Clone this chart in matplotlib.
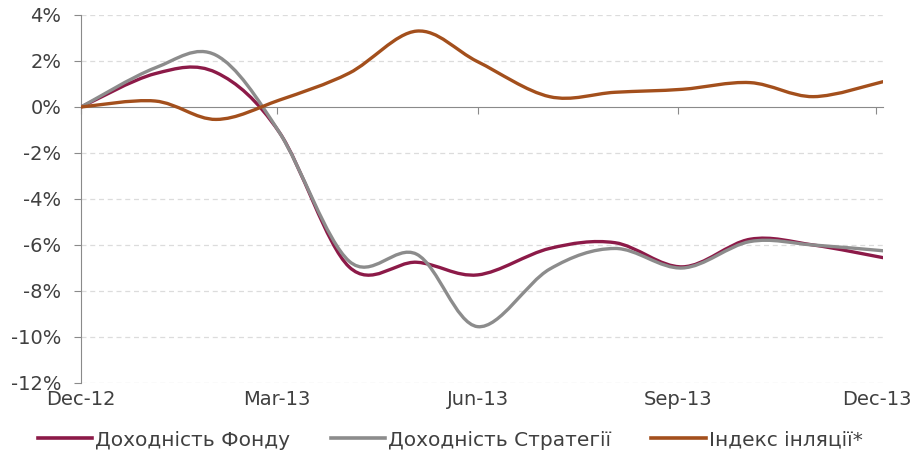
import matplotlib
matplotlib.use("Agg")
import matplotlib.pyplot as plt
import matplotlib.dates as mdates
from matplotlib.path import Path
from matplotlib.patches import PathPatch
from matplotlib.lines import Line2D
import numpy as np
import pandas as pd

# month-end data points
dates = pd.to_datetime(["2012-12-28", "2013-01-31", "2013-02-28", "2013-03-29",
                        "2013-04-30", "2013-05-31", "2013-06-28", "2013-07-31",
                        "2013-08-30", "2013-09-30", "2013-10-31", "2013-11-29",
                        "2013-12-31"])
fund = [0.0, 1.45, 1.5, -1.1, -6.95, -6.75, -7.3, -6.15, -5.9, -6.95, -5.75, -6.0, -6.55]
strategy = [0.0, 1.7, 2.25, -1.1, -6.7, -6.4, -9.55, -7.05, -6.15, -7.0, -5.85, -6.0, -6.25]
inflation = [0.0, 0.26, -0.54, 0.3, 1.47, 3.3, 1.97, 0.45, 0.64, 0.77, 1.06, 0.45, 1.1]

series_names = ["Доходність Фонду", "Доходність Стратегії", "Індекс інляції*"]
series_colors = ["#8c1a48", "#8c8c8c", "#a34f1c"]

tick_dates = pd.to_datetime(["2012-12-28", "2013-03-28", "2013-06-28",
                             "2013-09-28", "2013-12-28"])
tick_labels = ["Dec-12", "Mar-13", "Jun-13", "Sep-13", "Dec-13"]
y_ticks = [4, 2, 0, -2, -4, -6, -8, -10, -12]
y_labels = ["4%", "2%", "0%", "-2%", "-4%", "-6%", "-8%", "-10%", "-12%"]


def smooth_path(x, y):
    """Excel style smoothed line: cubic bezier segments through every point"""
    pts = np.column_stack([x, y])
    n = len(pts)
    verts = [pts[0]]
    codes = [Path.MOVETO]
    for i in range(n - 1):
        p0 = pts[max(i - 1, 0)]
        p1 = pts[i]
        p2 = pts[i + 1]
        p3 = pts[min(i + 2, n - 1)]
        verts += [p1 + (p2 - p0) / 6, p2 - (p3 - p1) / 6, p2]
        codes += [Path.CURVE4] * 3
    return Path(verts, codes)


fig = plt.figure(figsize=(9.19, 4.57), dpi=100)
ax = fig.add_axes([81 / 919, 1 - 383 / 457, 802 / 919, 368 / 457])

xnum = mdates.date2num(dates)
for values, color in zip([fund, strategy, inflation], series_colors):
    patch = PathPatch(smooth_path(xnum, values), fill=False, edgecolor=color,
                      lw=2.4, capstyle="round", joinstyle="round",
                      transform=ax.transData, zorder=3)
    ax.add_patch(patch)

ax.set_xlim(xnum[0], xnum[-1])
ax.set_ylim(-12, 4)

# gridlines
for yv in y_ticks:
    if yv != 0:
        ax.axhline(yv, color="#dcdcdc", lw=0.9, ls=(0, (4, 3)), zorder=1)

axis_color = "#8a8a8a"
text_color = "#404040"

ax.spines["top"].set_visible(False)
ax.spines["right"].set_visible(False)
ax.spines["left"].set_color(axis_color)
ax.spines["bottom"].set_color(axis_color)
ax.spines["bottom"].set_position(("data", 0))

ax.set_yticks(y_ticks)
ax.set_yticklabels(y_labels)
ax.tick_params(axis="y", direction="out", length=5, color=axis_color,
               labelsize=14, labelcolor=text_color, pad=9)

tick_num = mdates.date2num(tick_dates)
ax.set_xticks(tick_num)
ax.tick_params(axis="x", direction="out", length=5, color=axis_color,
               labelbottom=False)

# x labels sit below the plot, not on the 0% axis
sec = ax.secondary_xaxis(0.0)
sec.set_xticks(tick_num, tick_labels)
sec.tick_params(length=0, labelsize=14, labelcolor=text_color, pad=5)
sec.spines["bottom"].set_visible(False)

handles = [Line2D([0], [0], color=c, lw=2.6) for c in series_colors]
fig.legend(handles, series_names, loc="center", bbox_to_anchor=(0.49, 1 - 440 / 457),
           ncol=3, frameon=False, fontsize=14.5, labelcolor=text_color,
           handlelength=2.7, handletextpad=0.15, columnspacing=2.0)

fig.savefig("out.png", dpi=100)
